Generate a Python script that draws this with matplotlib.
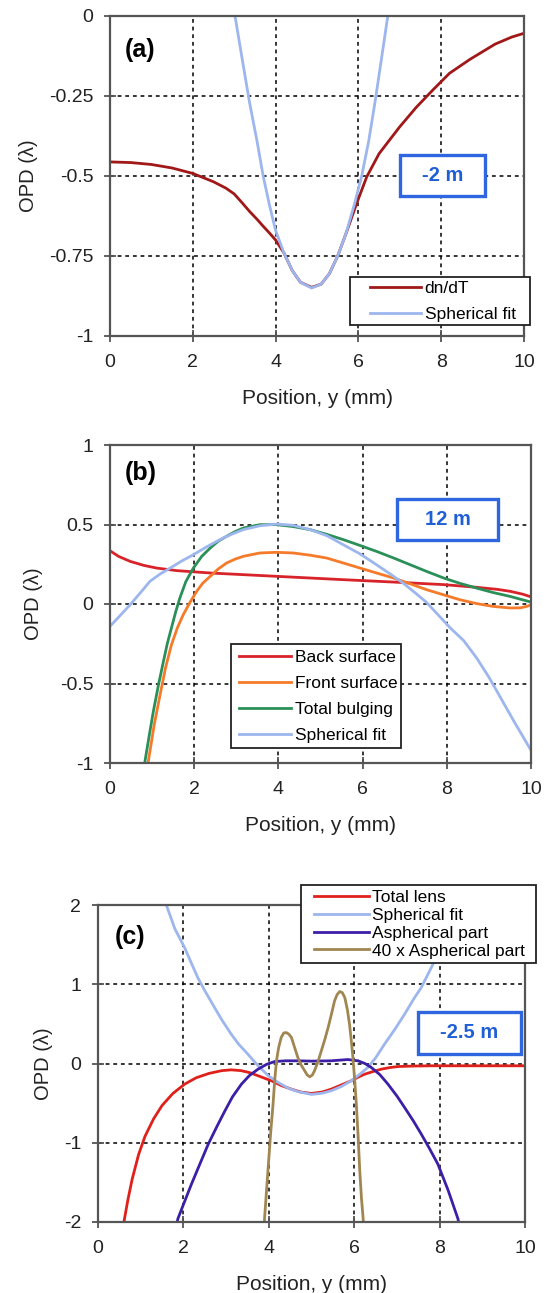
import matplotlib
matplotlib.use("Agg")
import matplotlib.pyplot as plt
from matplotlib.patches import Rectangle

plt.rcParams['font.family'] = ['Liberation Sans', 'DejaVu Sans']

# ---------------- Panel (a) ----------------
a_dndt_x = [0, 0.5, 1.0, 1.5, 2.0, 2.5, 2.8, 3.0, 3.2, 3.38, 3.55, 3.7, 3.85, 4.0, 4.2, 4.4, 4.6, 4.87, 5.1, 5.3, 5.5, 5.7, 5.96, 6.2, 6.5, 7.0, 7.4, 7.8, 8.2, 8.7, 9.3, 9.7, 10]
a_dndt_y = [-0.456, -0.458, -0.464, -0.475, -0.492, -0.518, -0.538, -0.556, -0.585, -0.612, -0.635, -0.657, -0.678, -0.70, -0.74, -0.795, -0.832, -0.848, -0.838, -0.805, -0.75, -0.68, -0.585, -0.503, -0.43, -0.346, -0.285, -0.231, -0.179, -0.135, -0.088, -0.066, -0.054]
a_fit_x = [3.02, 3.2, 3.37, 3.55, 3.7, 3.85, 4.0, 4.2, 4.4, 4.6, 4.87, 5.1, 5.3, 5.5, 5.7, 5.9, 6.08, 6.25, 6.4, 6.55, 6.71]
a_fit_y = [0.0, -0.14, -0.27, -0.39, -0.5, -0.59, -0.67, -0.74, -0.795, -0.832, -0.85, -0.838, -0.805, -0.75, -0.68, -0.59, -0.5, -0.39, -0.27, -0.14, 0.0]

# ---------------- Panel (b) ----------------
b_back_x = [0, 0.2, 0.48, 0.8, 1.11, 1.58, 2.38, 3.96, 5.54, 6.73, 7.92, 8.71, 9.2, 9.5, 9.8, 10]
b_back_y = [0.335, 0.3, 0.268, 0.243, 0.226, 0.21, 0.195, 0.174, 0.153, 0.138, 0.122, 0.105, 0.092, 0.08, 0.062, 0.045]
b_front_x = [0.88, 0.91, 1.05, 1.19, 1.32, 1.46, 1.6, 1.74, 1.9, 2.06, 2.2, 2.38, 2.57, 2.77, 2.97, 3.17, 3.56, 3.95, 4.35, 4.75, 5.15, 5.54, 5.94, 6.33, 6.73, 7.13, 7.52, 7.92, 8.31, 8.7, 9.1, 9.5, 9.75, 9.9, 10]
b_front_y = [-1.05, -0.99, -0.76, -0.57, -0.4, -0.256, -0.15, -0.067, 0.01, 0.08, 0.13, 0.174, 0.22, 0.258, 0.282, 0.3, 0.321, 0.325, 0.321, 0.307, 0.289, 0.258, 0.226, 0.195, 0.164, 0.127, 0.09, 0.058, 0.027, 0.003, -0.015, -0.025, -0.024, -0.015, -0.005]
b_total_x = [0.8, 0.83, 0.93, 1.03, 1.15, 1.27, 1.36, 1.46, 1.56, 1.66, 1.8, 1.98, 2.18, 2.38, 2.57, 2.77, 2.97, 3.17, 3.56, 3.96, 4.35, 4.75, 5.15, 5.54, 5.94, 6.33, 6.73, 7.13, 7.52, 7.92, 8.31, 8.71, 9.1, 9.5, 9.75, 10]
b_total_y = [-1.05, -0.99, -0.83, -0.675, -0.51, -0.36, -0.25, -0.15, -0.05, 0.038, 0.14, 0.226, 0.3, 0.352, 0.395, 0.426, 0.455, 0.478, 0.499, 0.499, 0.487, 0.468, 0.438, 0.405, 0.368, 0.331, 0.29, 0.247, 0.205, 0.164, 0.13, 0.1, 0.072, 0.048, 0.03, 0.012]
b_fit_x = [0, 0.25, 0.48, 0.72, 0.95, 1.2, 1.43, 1.7, 1.98, 2.3, 2.61, 2.9, 3.17, 3.56, 3.96, 4.35, 4.75, 5.15, 5.54, 5.94, 6.33, 6.65, 6.97, 7.25, 7.52, 7.8, 8.08, 8.4, 8.71, 9.0, 9.3, 9.6, 10]
b_fit_y = [-0.14, -0.07, -0.004, 0.07, 0.143, 0.19, 0.226, 0.27, 0.31, 0.36, 0.405, 0.44, 0.468, 0.492, 0.503, 0.495, 0.468, 0.43, 0.373, 0.315, 0.247, 0.19, 0.13, 0.07, 0.01, -0.07, -0.15, -0.23, -0.34, -0.46, -0.6, -0.74, -0.92]

# ---------------- Panel (c) ----------------
c_total_x = [0.55, 0.62, 0.7, 0.8, 0.95, 1.1, 1.3, 1.5, 1.75, 2.03, 2.3, 2.6, 2.9, 3.12, 3.35, 3.55, 3.8, 4.06, 4.3, 4.53, 4.75, 5.0, 5.25, 5.46, 5.7, 5.93, 6.1, 6.25, 6.45, 6.64, 6.85, 7.03, 7.4, 7.81, 10]
c_total_y = [-2.2, -1.96, -1.72, -1.46, -1.15, -0.92, -0.7, -0.53, -0.38, -0.26, -0.18, -0.125, -0.09, -0.08, -0.09, -0.115, -0.165, -0.218, -0.28, -0.324, -0.36, -0.378, -0.36, -0.324, -0.27, -0.218, -0.17, -0.134, -0.1, -0.071, -0.05, -0.038, -0.032, -0.029, -0.029]
c_fit_x = [1.6, 1.8, 2.03, 2.2, 2.34, 2.5, 2.73, 2.9, 3.12, 3.3, 3.51, 3.7, 3.83, 4.0, 4.22, 4.45, 4.68, 5.0, 5.25, 5.46, 5.7, 5.93, 6.12, 6.32, 6.5, 6.71, 6.95, 7.18, 7.4, 7.57, 7.88, 8.1, 8.4]
c_fit_y = [2.0, 1.7, 1.46, 1.25, 1.08, 0.92, 0.706, 0.55, 0.37, 0.24, 0.118, 0.0, -0.071, -0.16, -0.24, -0.31, -0.355, -0.39, -0.375, -0.345, -0.29, -0.218, -0.14, -0.05, 0.07, 0.244, 0.43, 0.622, 0.82, 0.958, 1.29, 1.55, 2.0]
c_asph_x = [1.82, 1.87, 2.0, 2.19, 2.4, 2.58, 2.78, 2.97, 3.15, 3.36, 3.55, 3.75, 3.95, 4.14, 4.4, 4.68, 5.0, 5.46, 5.85, 6.09, 6.25, 6.4, 6.6, 6.79, 7.0, 7.18, 7.38, 7.57, 7.76, 7.96, 8.2, 8.43, 8.48]
c_asph_y = [-2.1, -1.96, -1.78, -1.52, -1.25, -1.02, -0.8, -0.6, -0.42, -0.26, -0.15, -0.071, -0.01, 0.025, 0.034, 0.034, 0.03, 0.034, 0.05, 0.034, 0.0, -0.05, -0.14, -0.26, -0.41, -0.555, -0.72, -0.89, -1.07, -1.27, -1.6, -1.96, -2.1]
c_asph40_x = [3.89, 3.9, 3.98, 4.04, 4.1, 4.14, 4.18, 4.23, 4.29, 4.35, 4.41, 4.47, 4.53, 4.6, 4.68, 4.76, 4.84, 4.9, 4.96, 5.02, 5.07, 5.15, 5.23, 5.31, 5.39, 5.47, 5.54, 5.6, 5.66, 5.72, 5.78, 5.84, 5.89, 5.93, 5.97, 6.01, 6.05, 6.09, 6.13, 6.17, 6.21, 6.22]
c_asph40_y = [-2.1, -1.96, -1.35, -0.9, -0.51, -0.2, 0.034, 0.2, 0.328, 0.385, 0.39, 0.37, 0.328, 0.21, 0.076, -0.02, -0.092, -0.145, -0.168, -0.145, -0.092, 0.02, 0.16, 0.3, 0.454, 0.63, 0.79, 0.87, 0.908, 0.895, 0.832, 0.68, 0.496, 0.3, 0.076, -0.2, -0.51, -0.9, -1.35, -1.7, -1.96, -2.1]

xticks = [0, 2, 4, 6, 8, 10]
a_yticks = [-1, -0.75, -0.5, -0.25, 0]
a_yticklabels = ['-1', '-0.75', '-0.5', '-0.25', '0']
b_yticks = [-1, -0.5, 0, 0.5, 1]
b_yticklabels = ['-1', '-0.5', '0', '0.5', '1']
c_yticks = [-2, -1, 0, 1, 2]
c_yticklabels = ['-2', '-1', '0', '1', '2']

W, H = 546, 1293
fig = plt.figure(figsize=(W / 100, H / 100), dpi=100)

def rect(l, r, t, b):
    return [l / W, 1 - b / H, (r - l) / W, (b - t) / H]

ax_a = fig.add_axes(rect(110, 524, 16, 336))
ax_b = fig.add_axes(rect(110, 531, 445, 763))
ax_c = fig.add_axes(rect(98, 525, 905, 1222))

spine_col = '#555555'
box_col = '#2f66e0'
txt_col = '#1f5fd6'
LEGFS = 12.5

def style(ax, yticks, ylabels, ylim, ylabelpad):
    ax.set_xlim(0, 10)
    ax.set_ylim(*ylim)
    ax.set_xticks(xticks)
    ax.set_xticklabels([str(t) for t in xticks])
    ax.set_yticks(yticks)
    ax.set_yticklabels(ylabels)
    ax.grid(True, color='black', linestyle=(0, (2.5, 2.5)), linewidth=1.1)
    ax.set_axisbelow(True)
    for s in ax.spines.values():
        s.set_color(spine_col)
        s.set_linewidth(1.6)
    ax.tick_params(direction='inout', length=8, width=1.3, color=spine_col,
                   labelsize=14, labelcolor='#222222', pad=8)
    ax.tick_params(axis='x', pad=9)
    ax.set_xlabel('Position, y (mm)', fontsize=15, color='#222222', labelpad=13)
    ax.set_ylabel('OPD (λ)', fontsize=14.5, color='#222222', labelpad=ylabelpad)

def label_box(ax, x0, x1, y0, y1, text):
    ax.add_patch(Rectangle((x0, y0), x1 - x0, y1 - y0, transform=ax.transAxes,
                           fc='white', ec=box_col, lw=2.4, clip_on=False, zorder=6))
    ax.text((x0 + x1) / 2, (y0 + y1) / 2, text, transform=ax.transAxes, ha='center',
            va='center', fontsize=14.5, color=txt_col, fontweight='bold', zorder=7)

def legend_box(ax, x0, x1, y0, y1, ax_anchor, spacing, hlen):
    ax.add_patch(Rectangle((x0, y0), x1 - x0, y1 - y0, transform=ax.transAxes,
                           fc='white', ec='#222222', lw=1.3, clip_on=False, zorder=4.9))
    leg = ax.legend(loc='upper left', bbox_to_anchor=ax_anchor, fontsize=LEGFS,
                    frameon=False, handlelength=hlen, handletextpad=0.2,
                    borderpad=0, labelspacing=spacing, borderaxespad=0)
    leg.set_zorder(5)
    return leg

# (a)
ax_a.plot(a_dndt_x, a_dndt_y, color='#a01818', lw=2.0, label='dn/dT')
ax_a.plot(a_fit_x, a_fit_y, color='#9db6ee', lw=2.0, label='Spherical fit')
style(ax_a, a_yticks, a_yticklabels, (-1, 0), 8)
ax_a.text(0.036, 0.894, '(a)', transform=ax_a.transAxes, fontsize=18, fontweight='bold', va='center')
label_box(ax_a, 0.70, 0.906, 0.4375, 0.566, '-2 m')
legend_box(ax_a, 0.580, 1.0145, 0.0344, 0.184, (0.628, 0.172), 0.6, 2.95)

# (b)
ax_b.plot(b_back_x, b_back_y, color='#d8232a', lw=2.0, label='Back surface')
ax_b.plot(b_front_x, b_front_y, color='#f57a2a', lw=2.0, label='Front surface')
ax_b.plot(b_total_x, b_total_y, color='#2a9058', lw=2.0, label='Total bulging')
ax_b.plot(b_fit_x, b_fit_y, color='#9db6ee', lw=2.0, label='Spherical fit')
style(ax_b, b_yticks, b_yticklabels, (-1, 1), 12)
ax_b.text(0.036, 0.912, '(b)', transform=ax_b.transAxes, fontsize=18, fontweight='bold', va='center')
label_box(ax_b, 0.682, 0.922, 0.701, 0.830, '12 m')
legend_box(ax_b, 0.2874, 0.6912, 0.0472, 0.3742, (0.3064, 0.3553), 0.63, 3.0)

# (c)
ax_c.plot(c_total_x, c_total_y, color='#e0201b', lw=2.0, label='Total lens')
ax_c.plot(c_fit_x, c_fit_y, color='#9db6ee', lw=2.0, label='Spherical fit')
ax_c.plot(c_asph_x, c_asph_y, color='#3c1fa6', lw=2.0, label='Aspherical part')
ax_c.plot(c_asph40_x, c_asph40_y, color='#a08650', lw=2.0, label='40 x Aspherical part')
style(ax_c, c_yticks, c_yticklabels, (-2, 2), 8)
ax_c.text(0.04, 0.899, '(c)', transform=ax_c.transAxes, fontsize=18, fontweight='bold', va='center')
label_box(ax_c, 0.749, 0.991, 0.530, 0.6625, '-2.5 m')
legend_box(ax_c, 0.4754, 1.0258, 0.817, 1.063, (0.506, 1.047), 0.15, 3.15)

fig.savefig('out.png', dpi=100)
